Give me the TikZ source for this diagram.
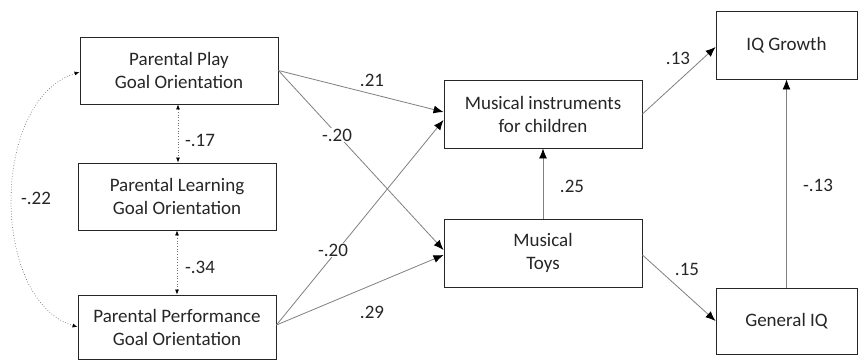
\documentclass[tikz,border=0pt]{standalone}
\usepackage{fontspec}
\setmainfont{Carlito}
\usetikzlibrary{arrows.meta,calc}
\begin{document}
\begin{tikzpicture}[x=1pt,y=-1pt,
  box/.style={draw=black!85, line width=0.9pt, inner sep=0pt, align=center, text=black!85,
    font=\fontsize{19}{23}\selectfont},
  lbl/.style={font=\fontsize{19}{23}\selectfont, text=black!85, inner sep=1pt},
  lblw/.style={lbl, fill=white},
  path/.style={draw=black!50, line width=0.8pt, -{Latex[length=10pt,width=8pt,black]}},
  cov/.style={draw=black!55, line width=0.7pt, dotted, {Latex[length=5pt,width=4pt,black]}-{Latex[length=5pt,width=4pt,black]}}
]
\useasboundingbox (0,0) rectangle (858,361);
\fill[white] (0,0) rectangle (858,361);

\node[box, minimum width=198, minimum height=67] (play) at (179,70.5) {Parental Play\\Goal Orientation};
\node[box, minimum width=198, minimum height=67] (learn) at (177,196.5) {Parental Learning\\Goal Orientation};
\node[box, minimum width=198, minimum height=64] (perf) at (177,327) {Parental Performance\\Goal Orientation};
\node[box, minimum width=198, minimum height=68] (instr) at (543,114) {Musical instruments\\for children};
\node[box, minimum width=198, minimum height=68] (toys) at (543,253) {Musical\\Toys};
\node[box, minimum width=141, minimum height=68] (iqg) at (786.5,45) {IQ Growth};
\node[box, minimum width=141, minimum height=66] (giq) at (786.5,321) {General IQ};

% paths
\draw[path] (play.east) -- ($(instr.west)+(0,-2)$);
\draw[path] (play.east) -- ($(toys.west)+(0,-3)$);
\draw[path] ($(perf.east)+(0,-2)$) -- ($(instr.west)+(0,6)$);
\draw[path] ($(perf.east)+(0,-2)$) -- ($(toys.west)+(0,2)$);
\draw[path] (toys.north) -- (instr.south);
\draw[path] (instr.east) -- ($(iqg.west)+(0,2)$);
\draw[path] ($(toys.east)+(0,2)$) -- (giq.west);
\draw[path] (giq.north) -- (iqg.south);

% covariances
\draw[cov] ($(play.south)+(-1,0)$) -- ($(learn.north)+(1,0)$);
\draw[cov] (learn.south) -- (perf.north);
\draw[cov] ($(play.west)+(0,1.5)$) .. controls (-10,100) and (-10,300) .. (perf.west);

% labels
\node[lbl] (l21) at (372,80) {.21};
\node[lblw] (l20a) at (337,135) {-.20};
\node[lblw] (l20b) at (333,250) {-.20};
\node[lbl] (l29) at (372,312) {.29};
\node[lbl] (l17) at (200,140) {-.17};
\node[lbl] (l34) at (200,267) {-.34};
\node[lbl] (l22) at (36,198) {-.22};
\node[lbl] (l13) at (678,58) {.13};
\node[lbl] (l25) at (572,186) {.25};
\node[lbl] (l15) at (687,269) {.15};
\node[lbl] (l13b) at (818,185) {-.13};
\end{tikzpicture}
\end{document}
